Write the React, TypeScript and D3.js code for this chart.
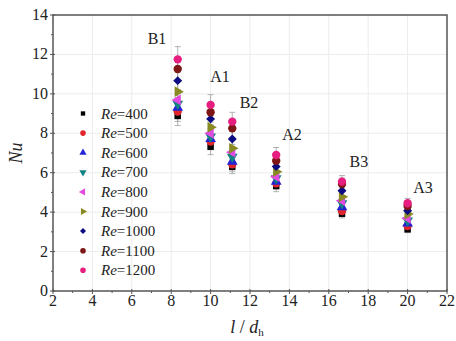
import React from "react";
import * as d3 from "d3";

// Channel geometry: dimensionless length l/d_h of each test section
const sections = ["B1", "A1", "B2", "A2", "B3", "A3"];
const lengthRatio = [8.33, 10.0, 11.1, 13.33, 16.67, 20.0];

// Reynolds numbers of each series
const reynolds = [400, 500, 600, 700, 800, 900, 1000, 1100, 1200];

// Average Nusselt number per section (columns follow `sections`)
const nu400 = [8.88, 7.32, 6.3, 5.33, 3.92, 3.13];
const nu500 = [9.1, 7.58, 6.43, 5.46, 4.05, 3.3];
const nu600 = [9.3, 7.71, 6.56, 5.55, 4.25, 3.43];
const nu700 = [9.49, 7.83, 6.81, 5.72, 4.45, 3.57];
const nu800 = [9.69, 8.0, 7.04, 5.8, 4.58, 3.69];
const nu900 = [10.11, 8.3, 7.24, 6.05, 4.78, 3.9];
const nu1000 = [10.67, 8.73, 7.71, 6.31, 5.09, 4.07];
const nu1100 = [11.26, 9.07, 8.25, 6.61, 5.43, 4.31];
const nu1200 = [11.75, 9.44, 8.59, 6.9, 5.55, 4.45];
const nuSeries = [nu400, nu500, nu600, nu700, nu800, nu900, nu1000, nu1100, nu1200];

// Relative measurement uncertainty of Nu
const nuUncertainty = 0.055;

// Section label anchors in data units (l/d_h, Nu)
const labelX = [7.28, 10.48, 11.95, 14.13, 17.53, 20.78];
const labelY = [12.53, 10.6, 9.28, 7.66, 6.29, 4.97];

const xTicks = [2, 4, 6, 8, 10, 12, 14, 16, 18, 20, 22];
const yTicks = [0, 2, 4, 6, 8, 10, 12, 14];

const W = 456;
const H = 341;
const left = 53;
const right = 447;
const top = 15;
const bottom = 291;

const colors = ["#000000", "#e0262c", "#2323d6", "#128282", "#e24ae2", "#8a8a22", "#0c0c82", "#7e1616", "#e61e80"];

type Shape = { type: d3.SymbolType; rot: number; size: number };
const shapes: Shape[] = [
  { type: d3.symbolSquare, rot: 0, size: 42 },
  { type: d3.symbolCircle, rot: 0, size: 55 },
  { type: d3.symbolTriangle, rot: 0, size: 50 },
  { type: d3.symbolTriangle, rot: 180, size: 50 },
  { type: d3.symbolTriangle, rot: -90, size: 50 },
  { type: d3.symbolTriangle, rot: 90, size: 50 },
  { type: d3.symbolSquare, rot: 45, size: 40 },
  { type: d3.symbolCircle, rot: 0, size: 55 },
  { type: d3.symbolCircle, rot: 0, size: 55 },
];

const FONT = "Times New Roman, Liberation Serif, serif";

export default function App() {
  const x = d3.scaleLinear().domain([2, 22]).range([left, right]);
  const y = d3.scaleLinear().domain([0, 14]).range([bottom, top]);

  const xMinor = d3.range(3, 22, 2);
  const yMinor = d3.range(1, 14, 2);

  const sym = (i: number, scale = 1) =>
    d3.symbol().type(shapes[i].type).size(shapes[i].size * scale)() || "";

  return (
    <svg width={W} height={H} style={{ position: "absolute", left: 0, top: 0, background: "#fff" }}>
      {/* grid */}
      <g stroke="#ececec" strokeWidth={1}>
        {xTicks.slice(1, -1).map((t) => (
          <line key={"gx" + t} x1={x(t)} x2={x(t)} y1={top} y2={bottom} />
        ))}
        {yTicks.slice(1, -1).map((t) => (
          <line key={"gy" + t} x1={left} x2={right} y1={y(t)} y2={y(t)} />
        ))}
      </g>

      {/* error bars */}
      <g stroke="#a0a0a0" strokeWidth={0.8}>
        {nuSeries.map((vals, si) =>
          vals.map((v, i) => {
            const cx = x(lengthRatio[i]);
            const e = v * nuUncertainty;
            return (
              <g key={`e${si}-${i}`}>
                <line x1={cx} x2={cx} y1={y(v + e)} y2={y(v - e)} />
                <line x1={cx - 3} x2={cx + 3} y1={y(v + e)} y2={y(v + e)} />
                <line x1={cx - 3} x2={cx + 3} y1={y(v - e)} y2={y(v - e)} />
              </g>
            );
          })
        )}
      </g>

      {/* markers */}
      {nuSeries.map((vals, si) => (
        <g key={"s" + si} fill={colors[si]}>
          {vals.map((v, i) => (
            <path
              key={i}
              d={sym(si)}
              transform={`translate(${x(lengthRatio[i])},${y(v)}) rotate(${shapes[si].rot})`}
            />
          ))}
        </g>
      ))}

      {/* frame */}
      <rect x={left} y={top} width={right - left} height={bottom - top} fill="none" stroke="#555" strokeWidth={1.5} />

      {/* ticks */}
      <g stroke="#555" strokeWidth={1}>
        {xTicks.map((t) => (
          <line key={"tx" + t} x1={x(t)} x2={x(t)} y1={bottom - 2} y2={bottom + 3} />
        ))}
        {xMinor.map((t) => (
          <line key={"mx" + t} x1={x(t)} x2={x(t)} y1={bottom} y2={bottom + 2} />
        ))}
        {yTicks.map((t) => (
          <line key={"ty" + t} x1={left - 3} x2={left + 2} y1={y(t)} y2={y(t)} />
        ))}
        {yMinor.map((t) => (
          <line key={"my" + t} x1={left - 2} x2={left} y1={y(t)} y2={y(t)} />
        ))}
      </g>

      {/* tick labels */}
      <g fontFamily={FONT} fontSize={16} fill="#222">
        {xTicks.map((t) => (
          <text key={"lx" + t} x={x(t)} y={bottom + 15} textAnchor="middle">
            {t}
          </text>
        ))}
        {yTicks.map((t) => (
          <text key={"ly" + t} x={left - 5} y={y(t) + 5} textAnchor="end">
            {t}
          </text>
        ))}
      </g>

      {/* axis titles */}
      <text
        fontFamily={FONT}
        fontSize={18}
        fontStyle="italic"
        fill="#222"
        textAnchor="middle"
        transform={`translate(22,${(top + bottom) / 2}) rotate(-90)`}
      >
        Nu
      </text>
      <text fontFamily={FONT} fontSize={18} fill="#222" x={247} y={333} textAnchor="middle">
        <tspan fontStyle="italic">l</tspan>
        <tspan> / </tspan>
        <tspan fontStyle="italic">d</tspan>
        <tspan fontSize={11} dy={3}>h</tspan>
      </text>

      {/* section labels */}
      <g fontFamily={FONT} fontSize={16} fill="#222" textAnchor="middle">
        {sections.map((s, i) => (
          <text key={s} x={x(labelX[i])} y={y(labelY[i])}>
            {s}
          </text>
        ))}
      </g>

      {/* legend */}
      <g fontFamily={FONT} fontSize={15} fill="#222">
        {reynolds.map((re, i) => {
          const ly = 113.5 + i * 19.6;
          return (
            <g key={re}>
              <path d={sym(i, 0.45)} fill={colors[i]} transform={`translate(83,${ly}) rotate(${shapes[i].rot})`} />
              <text x={101} y={ly + 5}>
                <tspan fontStyle="italic">Re</tspan>={re}
              </text>
            </g>
          );
        })}
      </g>
    </svg>
  );
}
